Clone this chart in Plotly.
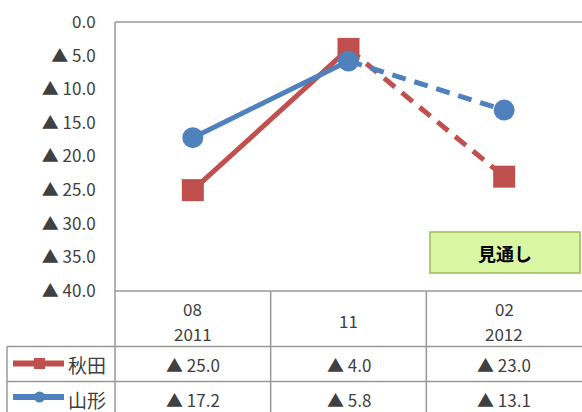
import plotly.graph_objects as go

# data
categories = ["08<br>2011", "11", "02<br>2012"]
series_names = ["秋田", "山形"]
akita = [-25.0, -4.0, -23.0]
yamagata = [-17.2, -5.8, -13.1]
y_ticks = [0, -5, -10, -15, -20, -25, -30, -35, -40]
outlook_label = "見通し"

RED, BLUE = "#C0504D", "#4F81BD"
GRIDC = "#999999"
INK = "#404040"
FONT = "Noto Sans CJK JP"
W, H = 582, 412
L, T, B = 115, 22, 121
PW, PH = W - L, H - T - B


def py(p):
    """pixel row -> paper y"""
    return (H - B - p) / PH


def px(p):
    return (p - L) / PW


def fmt(v):
    if v < 0:
        return "▲ " + f"{abs(v):.1f}"
    return f"{v:.1f}"


xs = list(range(len(categories)))
fig = go.Figure()

styles = [(akita, RED, "square", 22), (yamagata, BLUE, "circle", 21)]
for vals, color, sym, size in styles:
    # actual (solid) part
    fig.add_trace(go.Scatter(x=xs[:2], y=vals[:2], mode="lines",
                             line=dict(color=color, width=5), showlegend=False, hoverinfo="skip"))
    # outlook (dashed) part
    fig.add_trace(go.Scatter(x=xs[1:], y=vals[1:], mode="lines",
                             line=dict(color=color, width=5, dash="14px,9px"),
                             showlegend=False, hoverinfo="skip"))
for vals, color, sym, size in styles:
    fig.add_trace(go.Scatter(x=xs, y=vals, mode="markers",
                             marker=dict(color=color, symbol=sym, size=size, line=dict(width=0)),
                             showlegend=False))

shapes = []
line = dict(color=GRIDC, width=1.5)
# axis frame: top (y=0) and left
shapes.append(dict(type="line", xref="paper", yref="paper", x0=0, x1=1, y0=1, y1=1, line=line))
shapes.append(dict(type="line", xref="paper", yref="paper", x0=0, x1=0, y0=py(H + 5), y1=1, line=line))
# table horizontals
shapes.append(dict(type="line", xref="paper", yref="paper", x0=0, x1=1, y0=0, y1=0, line=line))
for r in (346.5, 381.5):
    shapes.append(dict(type="line", xref="paper", yref="paper", x0=px(7), x1=1, y0=py(r), y1=py(r), line=line))
# table verticals at category boundaries
for b in (0.5, 1.5):
    shapes.append(dict(type="line", xref="x", yref="paper", x0=b, x1=b, y0=py(H + 5), y1=0, line=line))
shapes.append(dict(type="line", xref="paper", yref="paper", x0=px(7), x1=px(7), y0=py(H + 5), y1=py(346.5), line=line))

# legend keys inside table
for rowc, color, sym in [(363.5, RED, "rect"), (397, BLUE, "circle")]:
    shapes.append(dict(type="line", xref="paper", yref="paper", x0=px(13), x1=px(64),
                       y0=py(rowc), y1=py(rowc), line=dict(color=color, width=6)))
    shapes.append(dict(type=sym, xref="paper", yref="paper", x0=px(34), x1=px(45),
                       y0=py(rowc + 5.5), y1=py(rowc - 5.5), fillcolor=color, line=dict(width=0)))

# outlook box
shapes.append(dict(type="rect", xref="paper", yref="paper", x0=px(430), x1=px(580),
                   y0=py(273), y1=py(232), fillcolor="#D9F6A3", line=dict(color="#9BBB59", width=1.5),
                   layer="below"))

annotations = []
# header row (one annotation per text line)
for i, c in enumerate(categories):
    parts = c.split("<br>")
    rows = [320] if len(parts) == 1 else [308, 333]
    for t, r in zip(parts, rows):
        annotations.append(dict(x=i, y=py(r), xref="x", yref="paper", text=t, showarrow=False,
                                font=dict(size=17, color=INK), xanchor="center", yanchor="middle"))
# value rows
for vals, rowc in [(akita, 364.5), (yamagata, 400)]:
    for i, v in enumerate(vals):
        annotations.append(dict(x=i, y=py(rowc), xref="x", yref="paper", text=fmt(v), showarrow=False,
                                font=dict(size=17, color=INK), xanchor="center", yanchor="middle"))
for name, rowc in zip(series_names, (364.5, 399)):
    annotations.append(dict(x=px(66), y=py(rowc), xref="paper", yref="paper", text=name, showarrow=False,
                            xanchor="left", font=dict(size=19, color=INK), yanchor="middle"))
annotations.append(dict(x=px(505), y=py(252.5), xref="paper", yref="paper", text="<b>" + outlook_label + "</b>",
                        showarrow=False, xanchor="center", yanchor="middle",
                        font=dict(size=18, color="#000000")))

fig.update_layout(
    width=W, height=H, margin=dict(l=L, r=0, t=T, b=B, autoexpand=False),
    paper_bgcolor="white", plot_bgcolor="white",
    font=dict(family=FONT, color=INK, size=17),
    xaxis=dict(range=[-0.5, 2.5], showgrid=False, zeroline=False, showticklabels=False, showline=False),
    yaxis=dict(range=[-40, 0], tickvals=y_ticks, ticktext=[fmt(v) for v in y_ticks],
               showgrid=False, zeroline=False, showline=False, ticks="outside", ticklen=15,
               tickcolor="rgba(0,0,0,0)", tickfont=dict(size=17, color=INK)),
    shapes=shapes, annotations=annotations, showlegend=False,
)

fig.write_html("out.html", config={"displayModeBar": False},
               post_script="document.body.style.margin='0';")
